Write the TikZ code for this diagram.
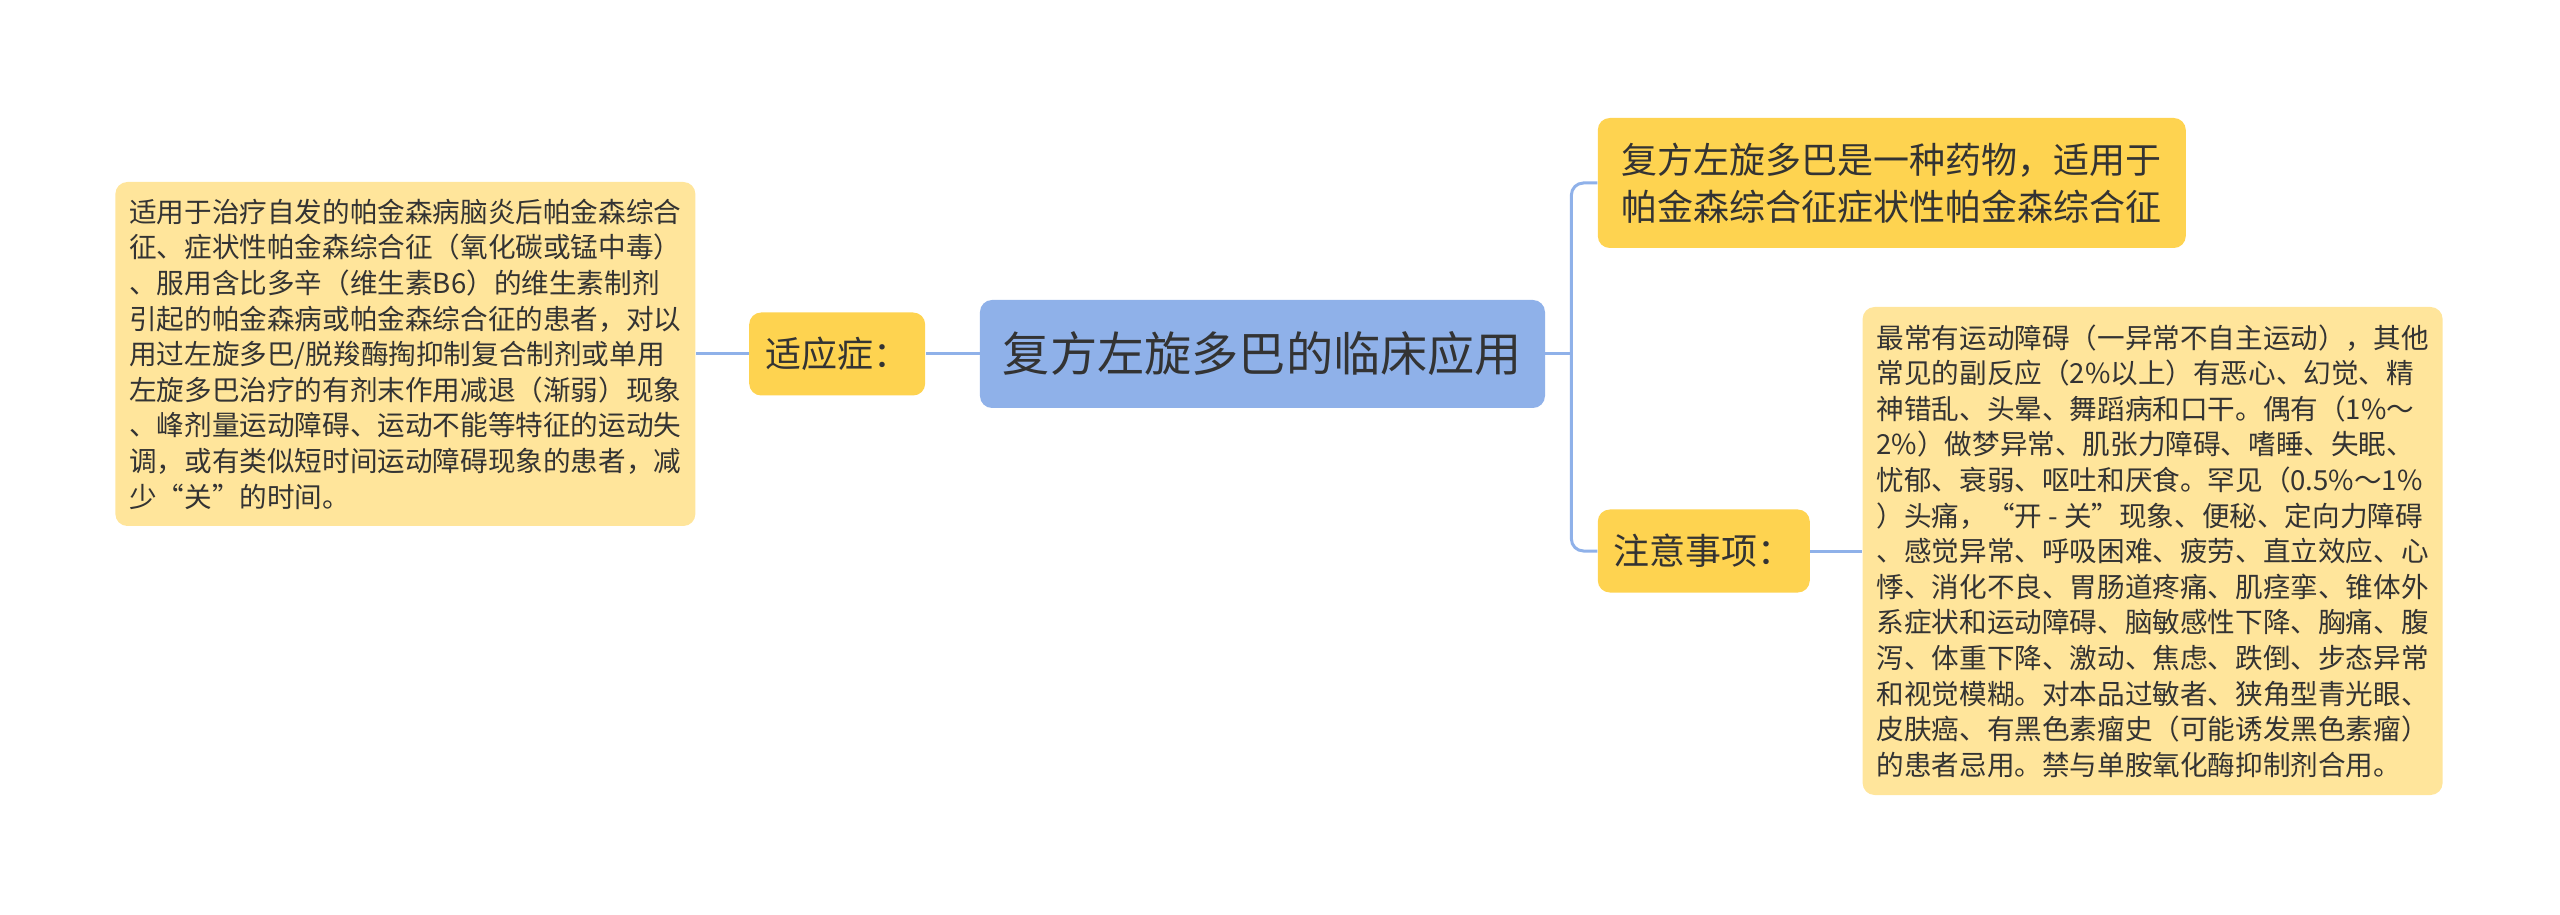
\documentclass[tikz,border=0pt]{standalone}
\usepackage{fontspec}
\setmainfont{Noto Sans CJK SC}
\usetikzlibrary{positioning,calc}
\definecolor{topicblue}{RGB}{143,177,233}
\definecolor{branchyel}{RGB}{254,211,80}
\definecolor{leafyel}{RGB}{255,229,155}
\definecolor{inkgray}{RGB}{51,51,51}
\tikzset{
  box/.style    ={rounded corners=6pt, align=left, text=inkgray, inner sep=0pt},
  topic/.style  ={box, fill=topicblue, minimum width=282.5pt, minimum height=54pt,
                  font=\fontsize{23.6pt}{28pt}\selectfont},
  branch/.style ={box, fill=branchyel, minimum height=41.5pt,
                  font=\fontsize{18pt}{23.7pt}\selectfont},
  leaf/.style   ={box, fill=leafyel, inner sep=7pt,
                  font=\fontsize{13.8pt}{17.8pt}\selectfont},
  link/.style   ={draw=topicblue, line width=1.5pt, rounded corners=6pt}
}

\begin{document}
\begin{tikzpicture}
  \useasboundingbox (-631.25pt,177pt) rectangle (648.75pt,-280.5pt);
  \node[topic](cen) at (0,0){复方左旋多巴的临床应用};

  % left side
  \node[branch, minimum width=88pt, left=27pt of cen](syz){适应症：};
  \node[leaf, minimum width=289.5pt, minimum height=172pt, left=26.5pt of syz](lt){%
    适用于治疗自发的帕金森病脑炎后帕金森综合\\
    征、症状性帕金森综合征（氧化碳或锰中毒）\\
    、服用含比多辛（维生素B6）的维生素制剂\\
    引起的帕金森病或帕金森综合征的患者，对以\\
    用过左旋多巴/脱羧酶掏抑制复合制剂或单用\\
    左旋多巴治疗的有剂末作用减退（渐弱）现象\\
    、峰剂量运动障碍、运动不能等特征的运动失\\
    调，或有类似短时间运动障碍现象的患者，减\\
    少“关”的时间。};

  % right side
  \node[branch, minimum width=294pt, minimum height=65pt, anchor=west](tr)
    at ($(cen.east)+(26pt,85.5pt)$){复方左旋多巴是一种药物，适用于\\帕金森综合征症状性帕金森综合征};
  \node[branch, minimum width=106pt, anchor=west](zy)
    at ($(cen.east)+(26pt,-98.5pt)$){注意事项：};
  \node[leaf, minimum width=290pt, minimum height=244pt, right=26pt of zy](rt){%
    最常有运动障碍（一异常不自主运动），其他\\
    常见的副反应（2\%以上）有恶心、幻觉、精\\
    神错乱、头晕、舞蹈病和口干。偶有（1\%～\\
    2\%）做梦异常、肌张力障碍、嗜睡、失眠、\\
    忧郁、衰弱、呕吐和厌食。罕见（0.5\%～1\%\\
    ）头痛，“开 - 关”现象、便秘、定向力障碍\\
    、感觉异常、呼吸困难、疲劳、直立效应、心\\
    悸、消化不良、胃肠道疼痛、肌痉挛、锥体外\\
    系症状和运动障碍、脑敏感性下降、胸痛、腹\\
    泻、体重下降、激动、焦虑、跌倒、步态异常\\
    和视觉模糊。对本品过敏者、狭角型青光眼、\\
    皮肤癌、有黑色素瘤史（可能诱发黑色素瘤）\\
    的患者忌用。禁与单胺氧化酶抑制剂合用。};

  \coordinate[right=13pt of cen.east](fork);
  \draw[link](cen.east)--(fork);
  \draw[link](fork)|-(tr.west);
  \draw[link](fork)|-(zy.west);
  \draw[link](cen.west)--(syz.east);
  \draw[link](syz.west)--(lt.east);
  \draw[link](zy.east)--(rt.west);
\end{tikzpicture}
\end{document}
